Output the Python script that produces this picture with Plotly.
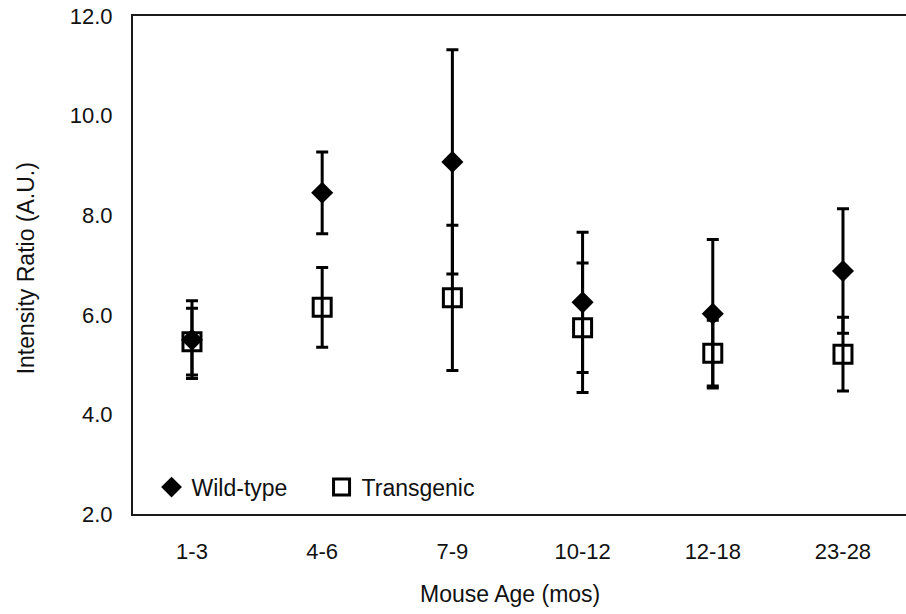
import plotly.graph_objects as go

categories = ["1-3", "4-6", "7-9", "10-12", "12-18", "23-28"]
wt_mean = [5.50, 8.45, 9.07, 6.25, 6.02, 6.88]
wt_err = [0.78, 0.82, 2.25, 1.41, 1.49, 1.25]
tg_mean = [5.46, 6.15, 6.34, 5.74, 5.23, 5.21]
tg_err = [0.67, 0.80, 1.46, 1.30, 0.66, 0.74]
y_ticks = [2.0, 4.0, 6.0, 8.0, 10.0, 12.0]

xpos = list(range(len(categories)))
FONT = "Arial, Liberation Sans, sans-serif"

fig = go.Figure()
fig.add_trace(go.Scatter(
    x=xpos, y=tg_mean, mode="markers", name="Transgenic",
    marker=dict(symbol="square-open", size=18, color="black", line=dict(width=3, color="black")),
    error_y=dict(type="data", array=tg_err, visible=True, color="black", thickness=3, width=6),
))
fig.add_trace(go.Scatter(
    x=xpos, y=wt_mean, mode="markers", name="Wild-type",
    marker=dict(symbol="diamond", size=17, color="black"),
    error_y=dict(type="data", array=wt_err, visible=True, color="black", thickness=3, width=6),
))

fig.update_layout(
    width=906, height=614,
    margin=dict(l=133, r=0, t=16, b=100),
    paper_bgcolor="white", plot_bgcolor="white",
    font=dict(family=FONT, size=22, color="#111111"),
    showlegend=True,
    legend=dict(orientation="h", traceorder="reversed", x=0.024, y=0.054,
                xanchor="left", yanchor="middle", entrywidth=125, entrywidthmode="pixels",
                font=dict(family=FONT, size=23, color="#111111"), bgcolor="rgba(0,0,0,0)",
                itemsizing="trace"),
    xaxis=dict(range=[-0.453, 5.484], tickmode="array", tickvals=xpos, ticktext=categories,
               showgrid=False, zeroline=False, showline=True, mirror=True,
               linecolor="#1a1a1a", linewidth=2, ticks="outside", ticklen=17,
               tickcolor="rgba(0,0,0,0)", tickfont=dict(size=22)),
    yaxis=dict(range=[2, 12], tickmode="array", tickvals=y_ticks,
               ticktext=[f"{v:.1f}" for v in y_ticks],
               showgrid=False, zeroline=False, showline=True, mirror=False,
               linecolor="#1a1a1a", linewidth=2, ticks="outside", ticklen=14,
               tickcolor="rgba(0,0,0,0)", tickfont=dict(size=22)),
    annotations=[
        dict(text="Intensity Ratio (A.U.)", textangle=-90, xref="paper", yref="paper",
             x=-0.138, y=0.494, showarrow=False, font=dict(size=23),
             xanchor="center", yanchor="middle"),
        dict(text="Mouse Age (mos)", xref="paper", yref="paper", x=0.488, y=-0.161,
             showarrow=False, font=dict(size=23), xanchor="center", yanchor="middle"),
    ],
)

fig.write_html("out.html")
